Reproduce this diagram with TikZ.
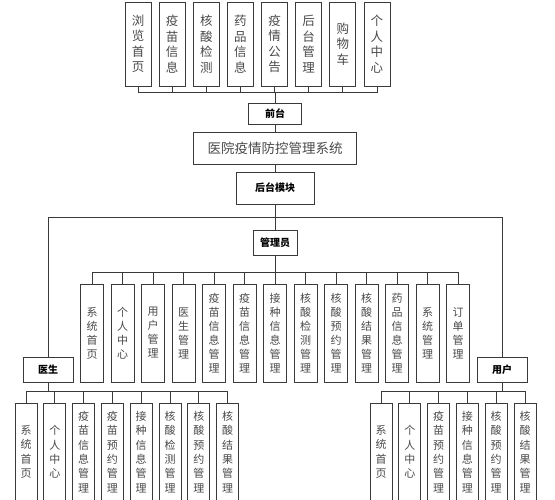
\documentclass[tikz,border=0pt]{standalone}
\usepackage{fontspec}
\newfontfamily\cjk{Noto Sans CJK SC}
\definecolor{lc}{HTML}{3A3A3A}
\definecolor{tc}{HTML}{4A4A4A}
\begin{document}
\begin{tikzpicture}[x=1pt,y=-1pt,
  ln/.style={draw=lc, line width=0.8pt},
  box/.style={draw=lc, line width=0.9pt, inner sep=0pt, align=center, text=tc, fill=white},
  vtop/.style={box, minimum width=26pt, minimum height=84pt, font=\cjk\fontsize{12.5}{15.5}\selectfont},
  vadm/.style={box, minimum width=23pt, minimum height=98pt, font=\cjk\fontsize{11}{14}\selectfont},
  vbot/.style={box, minimum width=22pt, minimum height=98pt, font=\cjk\fontsize{11}{14.3}\selectfont},
  lab/.style={box, text=black, font=\cjk\bfseries\fontsize{10}{12}\selectfont},
  ttl/.style={box, font=\cjk\fontsize{13.5}{16}\selectfont}]
\useasboundingbox (0,0) rectangle (555,500);
\fill[white] (0,0) rectangle (555,500);
\clip (0,0) rectangle (555,500);

% top row
\foreach \t [count=\i from 0] in {{浏\\览\\首\\页},{疫\\苗\\信\\息},{核\\酸\\检\\测},{药\\品\\信\\息},{疫\\情\\公\\告},{后\\台\\管\\理},{购\\物\\车},{个\\人\\中\\心}}
  \node[vtop] (t\i) at ({138+34.14*\i},44) {\t};
\node[lab, minimum width=53pt, minimum height=21pt] (qt) at (275,113.5) {前台};
\node[ttl, minimum width=163pt, minimum height=32pt] (sys) at (275,148) {医院疫情防控管理系统};
\node[lab, minimum width=78pt, minimum height=32pt] (hm) at (275,188) {后台模块};
\node[lab, minimum width=44pt, minimum height=25pt] (adm) at (275,242.5) {管理员};
\node[lab, minimum width=50pt, minimum height=25pt] (doc) at (48,369.5) {医生};
\node[lab, minimum width=50pt, minimum height=25pt] (usr) at (502,369.5) {用户};

\coordinate (tb) at (275,92);
\coordinate (mb) at (275,217);
\coordinate (ab) at (275,272);
\coordinate (db) at (48,391);
\coordinate (ub) at (502,391);

% admin row
\foreach \t [count=\i from 0] in {{系\\统\\首\\页},{个\\人\\中\\心},{用\\户\\管\\理},{医\\生\\管\\理},{疫\\苗\\信\\息\\管\\理},{疫\\苗\\信\\息\\管\\理},{接\\种\\信\\息\\管\\理},{核\\酸\\检\\测\\管\\理},{核\\酸\\预\\约\\管\\理},{核\\酸\\结\\果\\管\\理},{药\\品\\信\\息\\管\\理},{系\\统\\管\\理},{订\\单\\管\\理}}
  \node[vadm] (a\i) at ({92+30.5*\i},333) {\t};

% doctor row
\foreach \t [count=\i from 0] in {{系\\统\\首\\页},{个\\人\\中\\心},{疫\\苗\\信\\息\\管\\理},{疫\\苗\\预\\约\\管\\理},{接\\种\\信\\息\\管\\理},{核\\酸\\检\\测\\管\\理},{核\\酸\\预\\约\\管\\理},{核\\酸\\结\\果\\管\\理}}
  \node[vbot] (d\i) at ({26+28.8*\i},452) {\t};

% user row
\foreach \t [count=\i from 0] in {{系\\统\\首\\页},{个\\人\\中\\心},{疫\\苗\\预\\约\\管\\理},{接\\种\\信\\息\\管\\理},{核\\酸\\预\\约\\管\\理},{核\\酸\\结\\果\\管\\理}}
  \node[vbot] (u\i) at ({381+28.8*\i},452) {\t};

% connectors
\foreach \i in {0,...,7} \draw[ln] (t\i.south) |- (tb);
\draw[ln] (tb) -- (qt.north);
\draw[ln] (qt.south) -- (sys.north);
\draw[ln] (sys.south) -- (hm.north);
\draw[ln] (hm.south) -- (adm.north);
\draw[ln] (doc.north) |- (mb);
\draw[ln] (usr.north) |- (mb);
\draw[ln] (adm.south) -- (ab);
\foreach \i in {0,...,12} \draw[ln] (a\i.north) |- (ab);
\draw[ln] (doc.south) -- (db);
\foreach \i in {0,...,7} \draw[ln] (d\i.north) |- (db);
\draw[ln] (usr.south) -- (ub);
\foreach \i in {0,...,5} \draw[ln] (u\i.north) |- (ub);
\end{tikzpicture}
\end{document}
